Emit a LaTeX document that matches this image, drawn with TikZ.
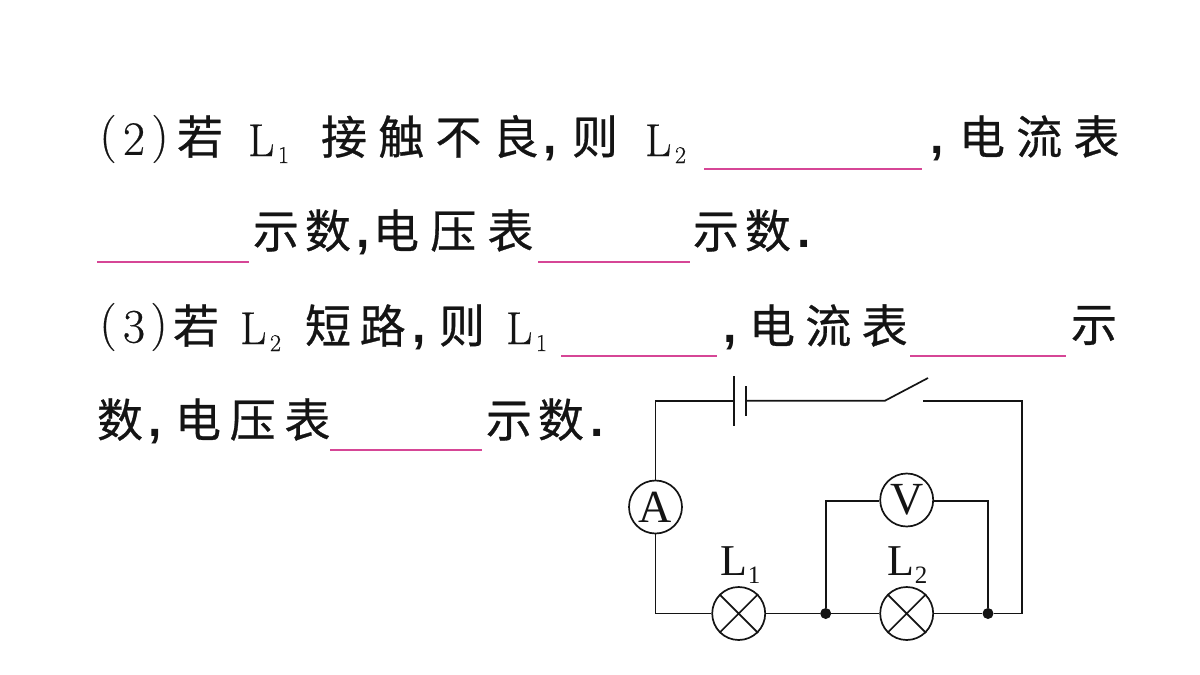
\documentclass[tikz,border=0pt]{standalone}
\usepackage{fontspec}
\setmainfont{Liberation Serif}
\newfontfamily\cjk{Noto Sans CJK SC}[FakeBold=0.6]
\newfontfamily\cjkA{Noto Sans CJK SC}[LetterSpace=13,FakeBold=0.6]
\newfontfamily\cjkB{Noto Sans CJK SC}[LetterSpace=19,FakeBold=0.6]
\newfontfamily\cjkC{Noto Sans CJK SC}[LetterSpace=22.5,FakeBold=0.6]
\newfontfamily\cjkD{Noto Sans CJK SC}[LetterSpace=24.5,FakeBold=0.6]
\newfontfamily\lat{Latin Modern Roman}[FakeBold=0.4]
\newfontfamily\pun{Liberation Sans}[BoldFont={Liberation Sans Bold}]
\definecolor{blank}{RGB}{214,70,150}
\definecolor{ink}{RGB}{20,20,20}
\tikzset{
  txt/.style={anchor=west,inner sep=0pt,outer sep=0pt,text=ink,font=\fontsize{46}{46}\selectfont},
  par/.style={anchor=center,inner sep=0pt,outer sep=0pt,text=ink,font=\fontsize{48}{48}\selectfont\lat},
  lat/.style={anchor=base west,inner sep=0pt,outer sep=0pt,text=ink,font=\fontsize{46}{46}\selectfont\lat},
  sub/.style={anchor=base west,inner sep=0pt,outer sep=0pt,text=ink,font=\fontsize{24}{24}\selectfont\lat},
  pun/.style={anchor=base west,inner sep=0pt,outer sep=0pt,text=ink,font=\fontsize{48}{48}\selectfont\pun\bfseries},
  blankline/.style={draw=blank,line width=1.5pt},
  wire/.style={draw=ink,line width=1.7pt},
  meter/.style={circle,draw=ink,line width=1.7pt,minimum size=53pt,inner sep=0pt,fill=white,text=ink,font=\fontsize{46}{46}\selectfont},
  dotnode/.style={circle,fill=ink,minimum size=11pt,inner sep=0pt},
  cname/.style={inner sep=0pt,text=ink,font=\fontsize{44}{44}\selectfont},
  csub/.style={inner sep=0pt,text=ink,font=\fontsize{25}{25}\selectfont}
}
\begin{document}
\begin{tikzpicture}[x=1pt,y=-1pt]
\useasboundingbox (0,0) rectangle (1200,675);
% line 1
\node[par] (a1a) at (108,139) {(};
\node[par] (a1b) at (134,139) {2};
\node[par] (a1c) at (160,139) {)};
\node[txt] (a2) at (177,136.5) {\cjk 若};
\node[lat] (a3) at (248,156) {L};
\node[sub] (a4) at (278,163) {1};
\node[txt] (a5) at (321,136.5) {\cjkD 接触不良};
\node[pun] (a6) at (543,153) {,};
\node[txt] (a7) at (572,136.5) {\cjk 则};
\node[lat] (a8) at (645,156) {L};
\node[sub] (a9) at (675,163) {2};
\coordinate (b1a) at (704,169); \coordinate (b1b) at (922,169);
\draw[blankline] (b1a) -- (b1b);
\node[pun] (a10) at (930,153) {,};
\node[txt] (a11) at (959,136.5) {\cjkD 电流表};
% line 2
\coordinate (b2a) at (97,262); \coordinate (b2b) at (249,262);
\draw[blankline] (b2a) -- (b2b);
\node[txt] (c1) at (253,230.5) {\cjkA 示数};
\node[pun] (c2) at (356,247) {,};
\node[txt] (c3) at (373,230.5) {\cjkD 电压表};
\coordinate (b3a) at (538,262); \coordinate (b3b) at (690,262);
\draw[blankline] (b3a) -- (b3b);
\node[txt] (c4) at (693,230.5) {\cjkA 示数};
\node[pun] (c5) at (797,247) {.};
% line 3
\node[par] (d1a) at (108,327) {(};
\node[par] (d1b) at (134,327) {3};
\node[par] (d1c) at (159,327) {)};
\node[txt] (d2) at (173,325.5) {\cjk 若};
\node[lat] (d3) at (240,344) {L};
\node[sub] (d4) at (270,351) {2};
\node[txt] (d5) at (305,325.5) {\cjkB 短路};
\node[pun] (d6) at (412,342) {,};
\node[txt] (d7) at (439,325.5) {\cjk 则};
\node[lat] (d8) at (506,344) {L};
\node[sub] (d9) at (536,351) {1};
\coordinate (b4a) at (561,356); \coordinate (b4b) at (717,356);
\draw[blankline] (b4a) -- (b4b);
\node[pun] (d10) at (723,342) {,};
\node[txt] (d11) at (749,325.5) {\cjkC 电流表};
\coordinate (b5a) at (910,356); \coordinate (b5b) at (1066,356);
\draw[blankline] (b5a) -- (b5b);
\node[txt] (d12) at (1071,325.5) {\cjk 示};
% line 4
\node[txt] (e1) at (97,419.5) {\cjk 数};
\node[pun] (e2) at (148,436) {,};
\node[txt] (e3) at (175,419.5) {\cjkB 电压表};
\coordinate (b6a) at (330,450); \coordinate (b6b) at (482,450);
\draw[blankline] (b6a) -- (b6b);
\node[txt] (e4) at (486,419.5) {\cjkA 示数};
\node[pun] (e5) at (590,436) {.};
% circuit
\node[meter] (A) at (655.5,507) {A};
\node[meter] (V) at (906.7,500) {V};
\node[meter] (L1) at (738.7,613.5) {};
\node[meter] (L2) at (906.7,613.5) {};
\node[dotnode] (J1) at (825.7,613.5) {};
\node[dotnode] (J2) at (988,613.5) {};
\draw[wire] (L1.45) -- (L1.225) (L1.135) -- (L1.315);
\draw[wire] (L2.45) -- (L2.225) (L2.135) -- (L2.315);
\coordinate (TL) at (655.5,400.7);
\coordinate (TR) at (1021.7,400.7);
\coordinate (BR) at (1021.7,613.5);
\coordinate (BL) at (655.5,613.5);
\coordinate (B1t) at (733.7,376); \coordinate (B1b) at (733.7,426);
\coordinate (B2t) at (745.7,386); \coordinate (B2b) at (745.7,416);
\coordinate (B1m) at (733.7,400.7); \coordinate (B2m) at (745.7,400.7);
\coordinate (S1) at (885,400.7); \coordinate (S2) at (928,378); \coordinate (S3) at (923,400.7);
\coordinate (VL) at (825.7,501); \coordinate (VR) at (988,501);
\draw[wire] (A.north) -- (TL) -- (B1m);
\draw[wire] (B1t) -- (B1b);
\draw[wire] (B2t) -- (B2b);
\draw[wire] (B2m) -- (S1) -- (S2);
\draw[wire] (S3) -- (TR) -- (BR) -- (J2);
\draw[wire] (J2) -- (L2);
\draw[wire] (L2) -- (J1);
\draw[wire] (J1) -- (L1);
\draw[wire] (L1) -- (BL) -- (A.south);
\draw[wire] (J1) -- (VL) -- (V.west |- VL);
\draw[wire] (J2) -- (VR) -- (V.east |- VR);
\node[cname] (N1) at (734,561) {L};
\node[csub] (N1s) at (754,575) {1};
\node[cname] (N2) at (901,561) {L};
\node[csub] (N2s) at (921,575) {2};
\end{tikzpicture}
\end{document}
